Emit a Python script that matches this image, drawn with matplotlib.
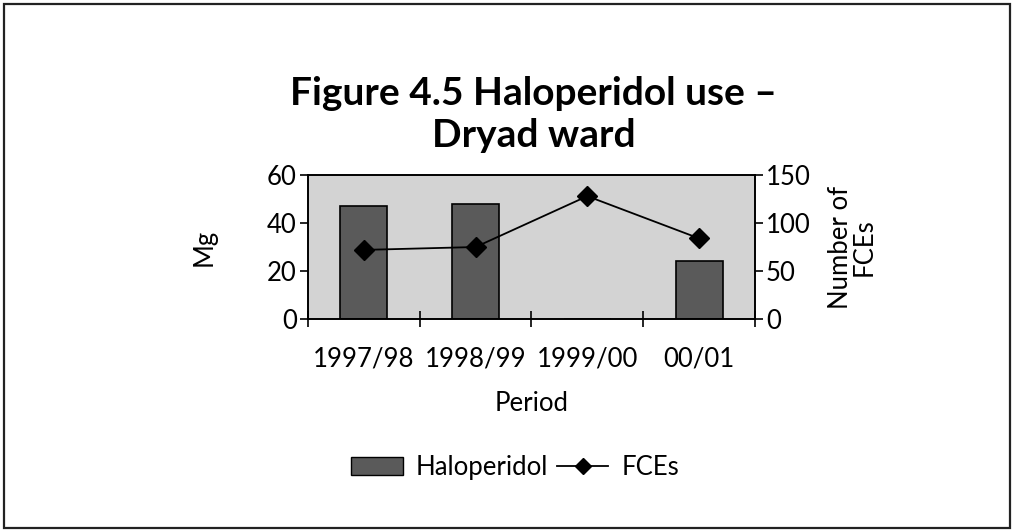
import numpy as np
import matplotlib.pyplot as plt
from matplotlib.patches import Rectangle
from matplotlib.lines import Line2D

periods = ["1997/98", "1998/99", "1999/00", "00/01"]
haloperidol_mg = [47, 48, 0, 24]
fces = [72, 75, 128, 84]

plt.rcParams['font.family'] = ['Lato', 'DejaVu Sans']

fig = plt.figure(figsize=(10.14, 5.31), dpi=100)
fig.patch.set_facecolor('white')

# outer frame
fig.patches.append(Rectangle((0.004, 0.006), 0.992, 0.986, transform=fig.transFigure,
                             fill=False, edgecolor='#222222', linewidth=1.6))

ax = fig.add_axes([0.3037, 0.3992, 0.4408, 0.2712])
ax.set_facecolor('#d3d3d3')
x = np.arange(len(periods))
ax.bar(x, haloperidol_mg, width=0.42, color='#5a5a5a', edgecolor='black', linewidth=1.2, zorder=2)
ax.set_xlim(-0.5, 3.5)
ax.set_ylim(0, 60)
ax.set_yticks([0, 20, 40, 60])
ax.set_xticks(np.arange(-0.5, 4.0, 1.0))
ax.set_xticklabels([])
ax.set_xticks(x, minor=True)
ax.set_xticklabels(periods, minor=True, fontsize=18.5)
ax.tick_params(axis='x', which='major', direction='inout', length=12, width=1.2)
ax.tick_params(axis='x', which='minor', length=0, pad=20)
ax.tick_params(axis='y', direction='out', length=6, width=1.2, labelsize=18.5, pad=2)
for s in ax.spines.values():
    s.set_linewidth(1.2)
ax.set_ylabel("Mg", fontsize=18.5, labelpad=36)
ax.set_xlabel("Period", fontsize=18.5, labelpad=14)

ax2 = ax.twinx()
ax2.plot(x, fces, color='black', linewidth=1.3, marker='D', markersize=10, zorder=3)
ax2.set_ylim(0, 150)
ax2.set_yticks([0, 50, 100, 150])
ax2.tick_params(axis='y', direction='out', length=6, width=1.2, labelsize=18.5, pad=2)
ax2.set_ylabel("Number of\nFCEs", fontsize=18.5, linespacing=0.95, labelpad=12)
for s in ax2.spines.values():
    s.set_linewidth(1.2)

fig.text(0.526, 0.785, "Figure 4.5 Haloperidol use \u2013\nDryad ward", ha='center', va='center',
         fontsize=28, fontweight='bold', linespacing=1.25)

handles = [Rectangle((0, 0), 1, 1, facecolor='#5a5a5a', edgecolor='black', linewidth=1),
           Line2D([0], [0], color='black', linewidth=1.3, marker='D', markersize=8)]
fig.legend(handles, ["Haloperidol", "FCEs"], loc='center', bbox_to_anchor=(0.508, 0.12),
           ncol=2, frameon=False, fontsize=18.5, handlelength=2.0, handletextpad=0.5,
           columnspacing=0.35)

fig.savefig("out.png", dpi=100)
